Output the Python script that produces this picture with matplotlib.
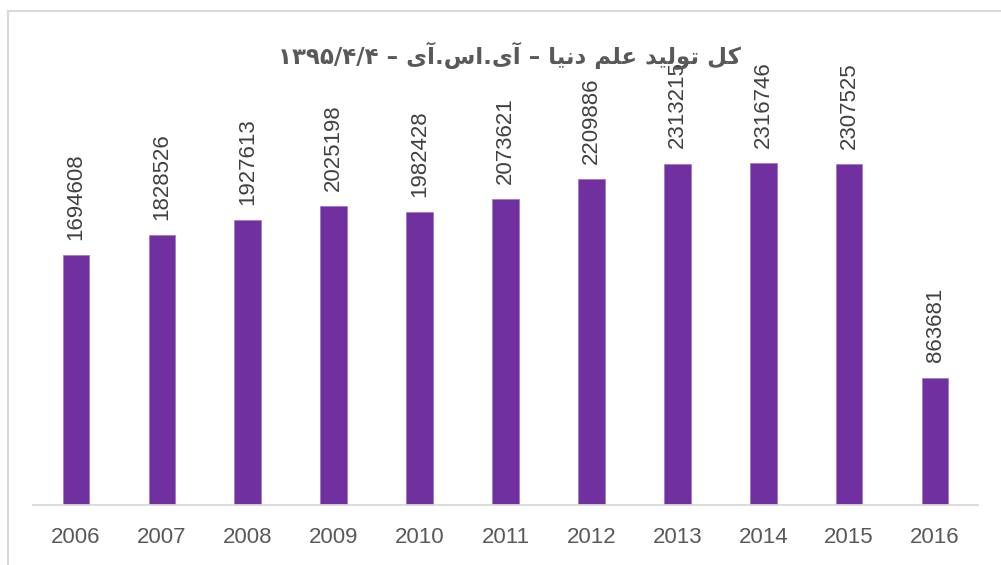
import numpy as np
import matplotlib
matplotlib.use('Agg')
import matplotlib.pyplot as plt
from matplotlib.patches import Rectangle

years = ['2006', '2007', '2008', '2009', '2010', '2011', '2012', '2013', '2014', '2015', '2016']
docs = [1694608, 1828526, 1927613, 2025198, 1982428, 2073621, 2209886, 2313215, 2316746, 2307525, 863681]

title_words = 'کل تولید علم دنیا'
title_src = 'آی.اس.آی'
title_date = '۱۳۹۵/۴/۴'

# matplotlib has no arabic shaping, so pick the presentation forms by hand
# letter: (isolated, final, initial, medial) ; right-joining ones only have 2
forms = {
    'ک': ('\uFB8E', '\uFB8F', '\uFB90', '\uFB91'),
    'ل': ('\uFEDD', '\uFEDE', '\uFEDF', '\uFEE0'),
    'ت': ('\uFE95', '\uFE96', '\uFE97', '\uFE98'),
    'ی': ('\uFBFC', '\uFBFD', '\uFBFE', '\uFBFF'),
    'ع': ('\uFEC9', '\uFECA', '\uFECB', '\uFECC'),
    'م': ('\uFEE1', '\uFEE2', '\uFEE3', '\uFEE4'),
    'ن': ('\uFEE5', '\uFEE6', '\uFEE7', '\uFEE8'),
    'س': ('\uFEB1', '\uFEB2', '\uFEB3', '\uFEB4'),
    'و': ('\uFEED', '\uFEEE'),
    'د': ('\uFEA9', '\uFEAA'),
    'ا': ('\uFE8D', '\uFE8E'),
    'آ': ('\uFE81', '\uFE82'),
}


def shape(s):
    out = []
    for i, c in enumerate(s):
        if c not in forms:
            out.append(c)
            continue
        prev = s[i - 1] if i > 0 else ''
        nxt = s[i + 1] if i + 1 < len(s) else ''
        join_prev = prev in forms and len(forms[prev]) == 4
        join_next = nxt in forms and len(forms[c]) == 4
        f = forms[c]
        if join_prev and join_next:
            out.append(f[3])
        elif join_prev:
            out.append(f[1])
        elif join_next:
            out.append(f[2])
        else:
            out.append(f[0])
    return ''.join(out)[::-1]   # visual order, left to right


title = title_date + ' \u2013 ' + shape(title_src) + ' \u2013 ' + shape(title_words)

plt.rcParams['font.family'] = ['Liberation Sans', 'DejaVu Sans']

fig = plt.figure(figsize=(10.01, 5.65), dpi=100)
W, H = 1001, 565
ax = fig.add_axes([33 / W, (H - 505) / H, 945 / W, 369 / H])

x = np.arange(len(years))
ax.bar(x, docs, width=0.31, color='#7030A0', edgecolor='#A07BC4', linewidth=0.6)

for i, v in enumerate(docs):
    ax.annotate(str(v), (x[i], v), xytext=(0, 11), textcoords='offset points',
                rotation=90, ha='center', va='bottom', fontsize=16, color='#404040')

ax.set_xlim(-0.5, len(years) - 0.5)
ax.set_ylim(0, 2500000)
ax.set_xticks(x)
ax.set_xticklabels(years, fontsize=16, color='#595959')
ax.tick_params(axis='x', length=0, pad=16)
ax.set_yticks([])
for s in ['top', 'left', 'right']:
    ax.spines[s].set_visible(False)
ax.spines['bottom'].set_color('#D9D9D9')
ax.spines['bottom'].set_linewidth(1.3)

fig.text(510 / W, 1 - 56 / H, title, ha='center', va='center', fontsize=16.5,
         fontweight='bold', color='#595959', family=['DejaVu Sans'])

# light frame, only top and left edge are inside the picture
fig.patches.append(Rectangle((7.5 / W, -0.1), 2, 1.1 - 11.5 / H, transform=fig.transFigure,
                             fill=False, edgecolor='#D9D9D9', linewidth=1.5, figure=fig))

fig.savefig('out.png', dpi=100)
